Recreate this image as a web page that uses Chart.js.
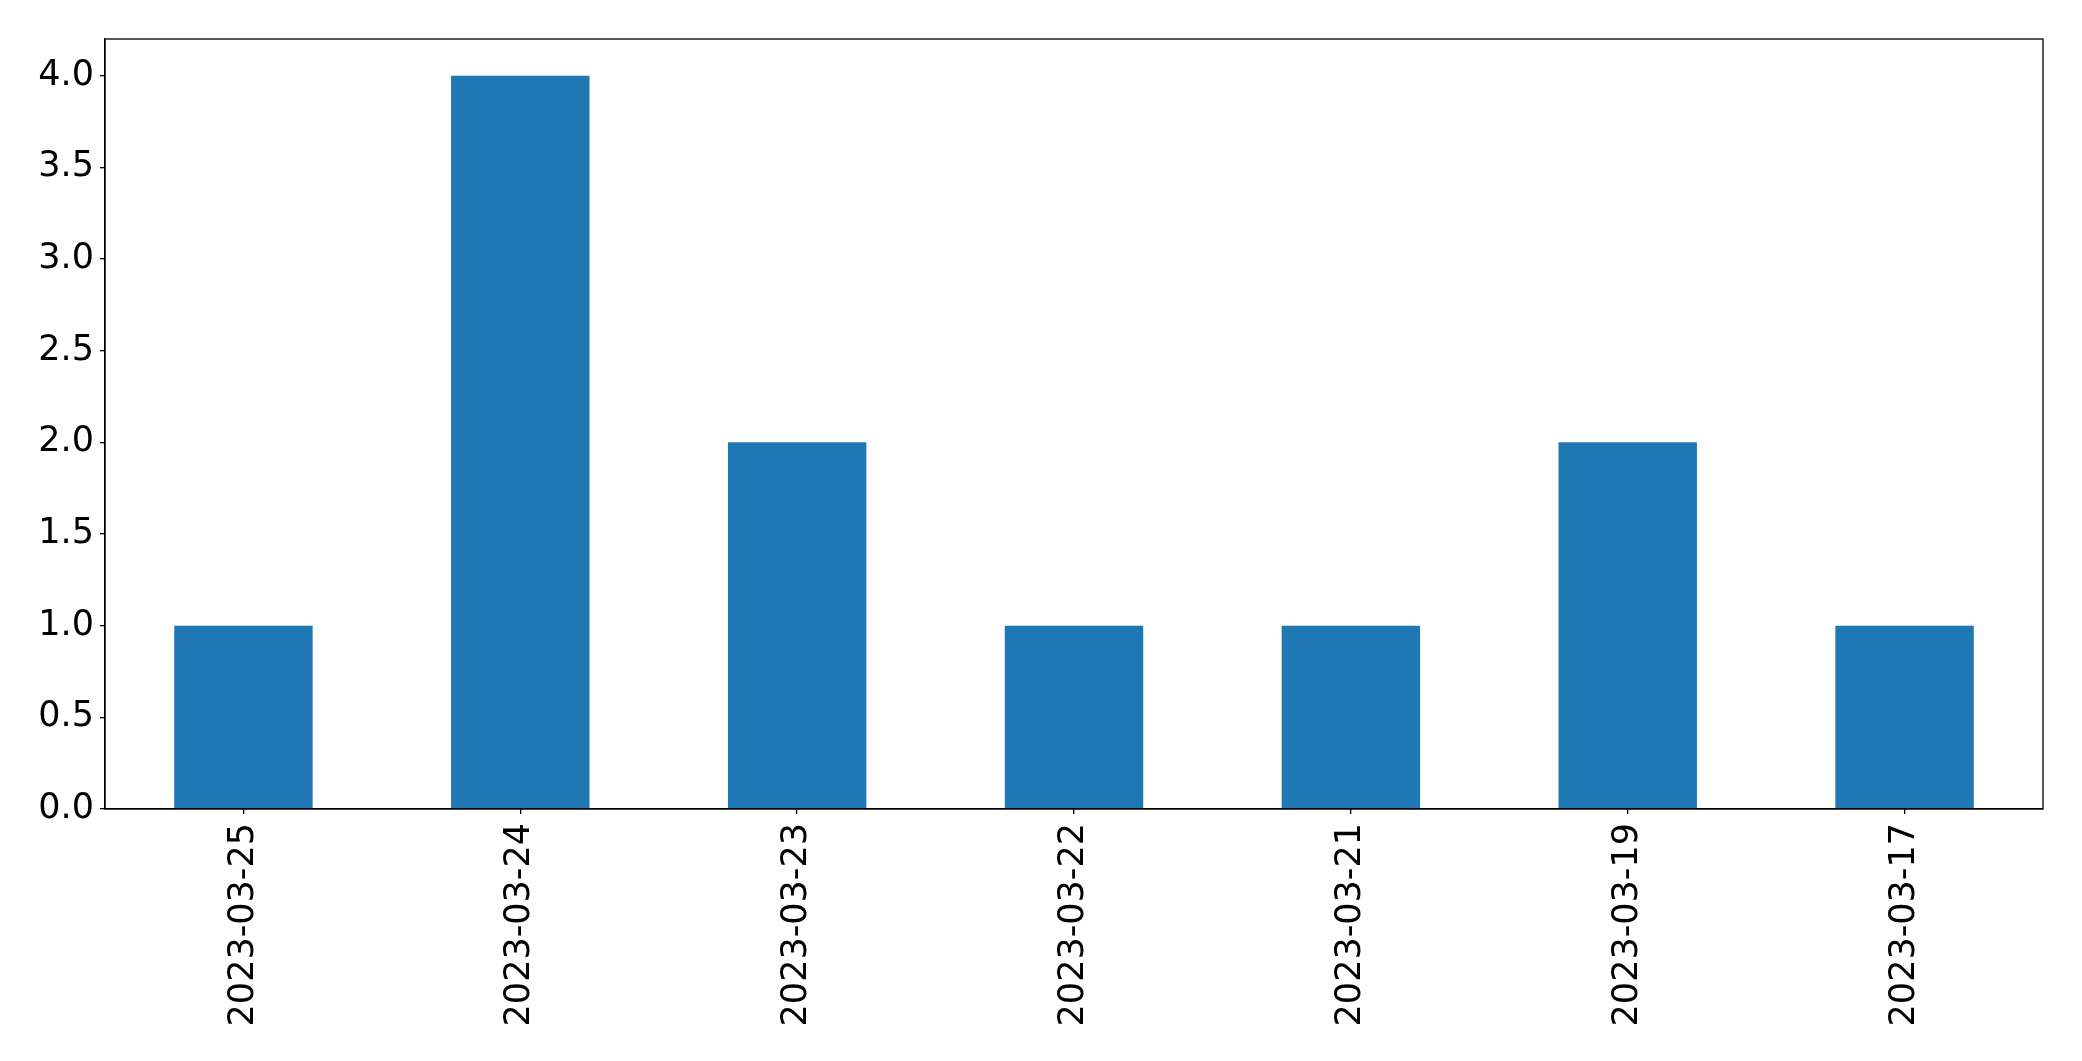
<!DOCTYPE html>
<html>
<head>
<meta charset="utf-8">
<script src="https://cdn.jsdelivr.net/npm/chart.js@4.4.0/dist/chart.umd.min.js"></script>
<style>
  html, body { margin: 0; padding: 0; background: #fff; }
  #wrap { width: 2082px; height: 1061px; }
</style>
</head>
<body>
<div id="wrap"><canvas id="barChart" width="2082" height="1061"></canvas></div>
<script>
// Chart data
const categories = ['2023-03-25', '2023-03-24', '2023-03-23', '2023-03-22', '2023-03-21', '2023-03-19', '2023-03-17'];
const counts = [1, 4, 2, 1, 1, 2, 1];
const yTicks = [0, 0.5, 1, 1.5, 2, 2.5, 3, 3.5, 4];

// Draw the full frame around the plot area
const framePlugin = {
  id: 'frame',
  afterDraw(chart) {
    const { ctx, chartArea: a } = chart;
    ctx.save();
    ctx.strokeStyle = '#000';
    ctx.lineWidth = 1.3;
    ctx.strokeRect(a.left, a.top, a.right - a.left, a.bottom - a.top);
    ctx.restore();
  }
};

const tickFont = { family: 'DejaVu Sans', size: 35 };

new Chart(document.getElementById('barChart'), {
  type: 'bar',
  data: {
    labels: categories,
    datasets: [{
      data: counts,
      backgroundColor: '#1f77b4',
      borderWidth: 0,
      categoryPercentage: 1.0,
      barPercentage: 0.5
    }]
  },
  options: {
    responsive: false,
    animation: false,
    layout: { padding: { top: 39, right: 39, bottom: 0, left: 0 } },
    plugins: {
      legend: { display: false },
      tooltip: { enabled: false }
    },
    scales: {
      x: {
        offset: true,
        grid: { offset: false, drawOnChartArea: false, drawTicks: true, tickLength: 5, color: '#000', lineWidth: 1.3 },
        border: { display: true, color: '#000', width: 1.3 },
        ticks: {
          color: '#000',
          font: tickFont,
          minRotation: 90,
          maxRotation: 90,
          padding: 9,
          autoSkip: false
        },
        afterFit(scale) { scale.height = 252; }
      },
      y: {
        min: 0,
        max: 4.2,
        grid: { drawOnChartArea: false, drawTicks: true, tickLength: 5, color: '#000', lineWidth: 1.3 },
        border: { display: true, color: '#000', width: 1.3 },
        ticks: {
          color: '#000',
          font: tickFont,
          padding: 6,
          callback: (v) => Number(v).toFixed(1)
        },
        afterBuildTicks(scale) { scale.ticks = yTicks.map(v => ({ value: v })); },
        afterFit(scale) { scale.width = 105; }
      }
    }
  },
  plugins: [framePlugin]
});
</script>
</body>
</html>
